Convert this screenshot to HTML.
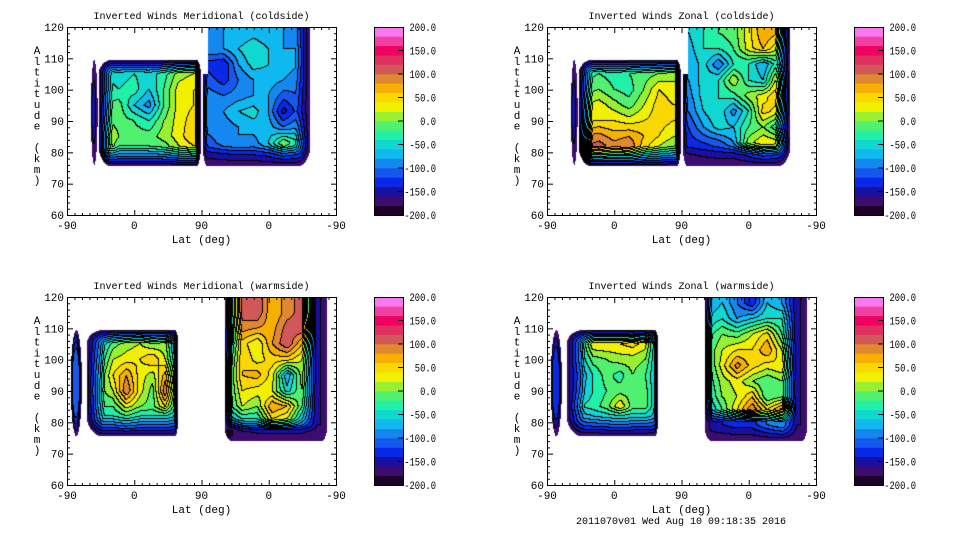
<!DOCTYPE html>
<html><head><meta charset="utf-8">
<style>
html,body{margin:0;padding:0;background:#fff;}
#root{position:relative;width:960px;height:540px;overflow:hidden;background:#fff;font-family:"Liberation Mono",monospace;}
canvas{position:absolute;}
svg{position:absolute;left:0;top:0;}
</style></head>
<body>
<div id="root">
<svg id="ax" width="960" height="540"></svg>
</div>
<script>
// ---- data ----
const colorLevels = [-200,-180,-160,-140,-120,-100,-80,-60,-40,-20,0,20,40,60,80,100,120,140,160,180];
const bandColors = ["#1c0028","#3c0c6e","#1a10a0","#0a28e8","#1458f0","#1488f0","#10b8f0","#10d8d0","#20f0a8","#50f070","#98f030","#f0f000","#f8d800","#f8b000","#e08830","#d05858","#e03060","#f00060","#f040a0","#f878f0"];
const cbarLabels = ["200.0","150.0","100.0","50.0","0.0","-50.0","-100.0","-150.0","-200.0"];
const cbarValues = [200,150,100,50,0,-50,-100,-150,-200];
const altTicks = [60,70,80,90,100,110,120];
const latTickLabels = ["-90","0","90","0","-90"];
const panelTitles = ["Inverted Winds Meridional (coldside)","Inverted Winds Zonal (coldside)","Inverted Winds Meridional (warmside)","Inverted Winds Zonal (warmside)"];

const colsA = [50,70,90,110,130,150,170];
const altsA = [105,100,95,90,85,82];
const colsB = [190,210,230,250,270,290,310];
const altsB = [118,113,108,103,98,93,88,83,79];
const colsAw = [45,62,80,98,115,132,146];
const colsBw = [215,235,255,275,295,315,335];
const altsBw = [115,110,105,100,95,90,85,81,77];
const altsBz = [118,113,108,103,98,93,88,84,80];

const meridColdA = [[-40,-50,-40,-50,-30,10,20],[-30,-40,-30,-60,-20,30,40],[-20,-10,-60,-90,-20,30,40],[0,-10,-20,-40,0,30,50],[40,0,-10,-10,10,30,60],[40,-20,-20,-20,-10,20,40]];
const meridColdB = [[-90,-80,-80,-70,-80,-80,-90],[-80,-80,-60,-40,-60,-80,-80],[-130,-140,-80,-50,-60,-70,-80],[-110,-130,-100,-80,-70,-80,-90],[-90,-100,-90,-80,-80,-110,-100],[-90,-80,-60,-50,-80,-150,-110],[-90,-90,-80,-70,-70,-100,-80],[-110,-90,-80,-90,-60,0,-40],[-130,-120,-110,-110,-100,-60,-80]];
const zonalColdA = [[-30,-20,-30,-20,-10,0,10],[-10,0,-20,-30,0,40,30],[20,30,10,-10,20,50,40],[40,40,40,30,40,50,40],[80,90,70,80,60,40,20],[100,110,90,100,50,20,0]];
const zonalColdB = [[-60,-40,-20,-10,30,80,60],[-70,-40,-40,-20,30,60,20],[-80,-50,-100,-40,-40,-80,-20],[-80,-50,-40,20,-40,-60,40],[-90,-50,-40,-30,10,30,60],[-100,-60,-40,-90,-40,50,30],[-120,-80,-50,-60,-20,0,-40],[-130,-120,-110,-80,10,40,30],[-150,-140,-130,-130,-100,-60,-80]];
const meridWarmA = [[-60,-10,10,20,0,10,-80],[-40,20,30,40,60,20,-60],[-20,40,80,30,10,70,-40],[-10,20,100,30,-10,100,-20],[-20,-20,30,0,-10,40,-40],[-40,-40,-20,-40,-40,-40,-60]];
const meridWarmB = [[-100,110,120,60,90,110,-160],[-100,90,80,70,110,120,-160],[-80,50,20,80,120,60,-160],[-60,60,30,50,50,20,-160],[-40,60,70,30,-80,10,-160],[-40,40,30,20,-50,0,-160],[-40,20,0,80,60,-20,-160],[-80,-40,-40,40,20,-60,-160],[-200,-150,-140,-140,-140,-140,-160]];
const zonalWarmA = [[-60,40,40,40,50,30,-60],[-60,-10,0,10,10,0,-60],[-80,-40,-10,-30,0,-20,-60],[-70,-40,-20,-10,-10,-10,-60],[-40,-30,-10,40,-10,-10,-60],[-70,-60,-50,-40,-50,-50,-70]];
const zonalWarmB = [[-80,-60,-100,-140,-60,-80,-160],[-60,-40,-80,-60,-40,-40,-160],[-30,0,-10,20,50,-20,-160],[-20,20,40,40,80,20,-160],[-30,30,90,50,30,40,-160],[-40,10,30,0,-20,0,-160],[-50,0,20,60,-20,0,-160],[-70,-20,40,100,40,90,-160],[-150,-140,-130,-130,-100,-80,-160]];
const ellipseValues = [-160,-160,-110,-130];

// ---- layout ----
const panels = [
 {x:67,y:27,blocks:[
   {kind:"ell",u0:32,u1:41,a0:76,a1:109.5,v:ellipseValues[0]},
   {u0:43,u1:179,a0:75.5,a1:109.5,us:colsA,as:altsA,vals:meridColdA,rim:[14,5,20,14]},
   {u0:182,u1:325,a0:75.5,a1:120,us:colsB,as:altsB,vals:meridColdB,rim:[0,14,20,5],notch:[182,189,105]}]},
 {x:547,y:27,blocks:[
   {kind:"ell",u0:32,u1:41,a0:76,a1:109.5,v:ellipseValues[1]},
   {u0:43,u1:179,a0:75.5,a1:109.5,us:colsA,as:altsA,vals:zonalColdA,rim:[14,5,20,14]},
   {u0:182,u1:325,a0:75.5,a1:120,us:colsB,as:altsB,vals:zonalColdB,rim:[0,14,20,5],notch:[182,189,105]}]},
 {x:67,y:297,blocks:[
   {kind:"ell",u0:5,u1:20,a0:75.5,a1:109.5,v:ellipseValues[2]},
   {u0:27,u1:149,a0:75.5,a1:109.5,us:colsAw,as:altsA,vals:meridWarmA,rim:[14,4,20,18]},
   {u0:211,u1:348,a0:74,a1:120,us:colsBw,as:altsBw,vals:meridWarmB,rim:[0,6,16,8]}]},
 {x:547,y:297,blocks:[
   {kind:"ell",u0:5,u1:20,a0:75.5,a1:109.5,v:ellipseValues[3]},
   {u0:27,u1:149,a0:75.5,a1:109.5,us:colsAw,as:altsA,vals:zonalWarmA,rim:[14,4,20,18]},
   {u0:211,u1:348,a0:74,a1:120,us:colsBw,as:altsBz,vals:zonalWarmB,rim:[0,6,16,8]}]}
];
const W=269,H=188;
const FLOOR=-178;
const xOf=u=>u/360*W;
const yOf=a=>(120-a)/60*H;
const NS="http://www.w3.org/2000/svg";
const svg=document.getElementById('ax');
const root=document.getElementById('root');

function idx(arr,v,desc){
  const n=arr.length;
  for(let i=0;i<n-1;i++){
    const a=arr[i],b=arr[i+1];
    if(desc? (v<=a&&v>=b):(v>=a&&v<=b)) return [i,(v-a)/(b-a)];
  }
  if(desc){ return v>arr[0]?[0,0]:[n-2,1]; }
  return v<arr[0]?[0,0]:[n-2,1];
}
function interp(b,u,a){
  const [i,t]=idx(b.us,u,false);
  const [j,s]=idx(b.as,a,true);
  const g=b.vals;
  const v00=g[j][i],v01=g[j][i+1],v10=g[j+1][i],v11=g[j+1][i+1];
  return (v00*(1-t)+v01*t)*(1-s)+(v10*(1-t)+v11*t)*s;
}
function fieldVal(b,px,py){
  const x0=xOf(b.u0),x1=xOf(b.u1),y0=yOf(b.a1),y1=yOf(b.a0);
  if(px<x0||px>x1||py<y0||py>y1) return null;
  if(b.kind==="ell"){
    const cx=(x0+x1)/2,cy=(y0+y1)/2,rx=(x1-x0)/2,ry=(y1-y0)/2;
    const r=Math.sqrt(((px-cx)/rx)**2+((py-cy)/ry)**2);
    if(r>1) return null;
    const f=Math.min(1,(1-r)*2.5);
    return FLOOR+(b.v-FLOOR)*f;
  }
  if(b.notch && px<xOf(b.notch[1]) && py<yOf(b.notch[2])) return null;
  const u=px/W*360,a=120-py/H*60;
  let v=interp(b,u,a);
  const d=[py-y0,x1-px,y1-py,px-x0];
  const fs=[];
  for(let k=0;k<4;k++){ fs.push(b.rim[k]>0?Math.max(0,Math.min(1,d[k]/b.rim[k])):1); }
  let f=1;
  for(let k=0;k<4;k++){
    const g1=1-fs[k],g2=1-fs[(k+1)%4];
    const c=1-Math.min(1,Math.sqrt(g1*g1+g2*g2));
    f=Math.min(f,c);
  }
  if(f<0) f=0;
  for(let k=0;k<4;k++){
    const g1=1-fs[k],g2=1-fs[(k+1)%4];
    if(b.rim[k]>0&&b.rim[(k+1)%4]>0&&g1*g1+g2*g2>1.05) return null;
  }
  return FLOOR+(v-FLOOR)*f;
}
function rgb(h){return [parseInt(h.substr(1,2),16),parseInt(h.substr(3,2),16),parseInt(h.substr(5,2),16)];}
const bandRGB=bandColors.map(rgb);

panels.forEach((p,pi)=>{
  const c=document.createElement('canvas');
  c.width=W;c.height=H;c.style.left=p.x+'px';c.style.top=p.y+'px';
  
  
  root.insertBefore(c,svg);
  const ctx=c.getContext('2d');
  const img=ctx.createImageData(W,H);
  const lev=new Int16Array(W*H).fill(-1);
  for(let y=0;y<H;y++)for(let x=0;x<W;x++){
    for(const b of p.blocks){
      const v=fieldVal(b,x+0.5,y+0.5);
      if(v!==null){
        let k=0; for(let i=0;i<colorLevels.length;i++) if(v>=colorLevels[i]) k=i;
        lev[y*W+x]=k; break;
      }
    }
  }
  for(let y=0;y<H;y++)for(let x=0;x<W;x++){
    const i=y*W+x,o=i*4,l=lev[i];
    let r=255,g=255,bl=255;
    if(l>=0){
      [r,g,bl]=bandRGB[l];
      const rr=x<W-1?lev[i+1]:-1, dd=y<H-1?lev[i+W]:-1;
      if((rr>=0&&rr!==l)||(dd>=0&&dd!==l)){r=g=bl=0;}
    }
    img.data[o]=r;img.data[o+1]=g;img.data[o+2]=bl;img.data[o+3]=255;
  }
  ctx.putImageData(img,0,0);
});

function el(tag,attrs,parent){const e=document.createElementNS(NS,tag);for(const k in attrs)e.setAttribute(k,attrs[k]);(parent||svg).appendChild(e);return e;}
function txt(x,y,s,anchor,size,parent){const t=el('text',{x:x,y:y,'text-anchor':anchor,'font-size':size,'font-family':'"Liberation Mono",monospace',fill:'#000'},parent);t.textContent=s;return t;}

panels.forEach((p,pi)=>{
  const g=el('g',{});
  
  
  const X=p.x,Y=p.y;
  const t=txt(X+W/2,Y-8,panelTitles[pi],'middle',10,g);
  
  
  el('rect',{x:X+0.5,y:Y+0.5,width:W,height:H,fill:'none',stroke:'#000','stroke-width':1},g);
  for(let a=60;a<=120;a+=2){
    const yy=Y+0.5+yOf(a);const len=(a%10===0)?6:3;
    el('line',{x1:X,y1:yy,x2:X+len,y2:yy,stroke:'#000'},g);
    el('line',{x1:X+W+1,y1:yy,x2:X+W+1-len,y2:yy,stroke:'#000'},g);
  }
  altTicks.forEach(a=>{const l=txt(X-3,Y+yOf(a)+4,String(a),'end',11,g);
    });
  for(let u=0;u<=360;u+=10){
    const xx=X+0.5+xOf(u);const len=(u%90===0)?6:3;
    el('line',{x1:xx,y1:Y+H+1,x2:xx,y2:Y+H+1-len,stroke:'#000'},g);
    el('line',{x1:xx,y1:Y,x2:xx,y2:Y+len,stroke:'#000'},g);
  }
  latTickLabels.forEach((s,i)=>{const l=txt(X+xOf(i*90),Y+H+14,s,'middle',11,g);
    });
  const xt=txt(X+W/2,Y+H+28,'Lat (deg)','middle',11,g);
  
  const yt=el('text',{x:37,y:0,'font-size':11,'font-family':'"Liberation Mono",monospace','text-anchor':'middle'},g);
  
  "Altitude (km)".split('').forEach((ch,i)=>{const ts=el('tspan',{x:X-30,y:Y+27+i*10.8},yt);ts.textContent=ch===' '?'\u00a0':ch;});
  const cx=X+307,cw=29;
  const cb=el('g',{},g);
  
  const bh=H/bandColors.length;
  bandColors.forEach((col,i)=>{el('rect',{x:cx,y:Y+H-(i+1)*bh,width:cw,height:bh+0.3,fill:col},cb);});
  el('rect',{x:cx+0.5,y:Y+0.5,width:cw,height:H,fill:'none',stroke:'#000'},cb);
  cbarValues.forEach((v,i)=>{
    const yy=Y+(200-v)/400*H;
    if(v>-200&&v<200) el('line',{x1:cx+cw-5,y1:yy,x2:cx+cw,y2:yy,stroke:'#000'},cb);
    const s=cbarLabels[i];
    const w=s.length*5.3;
    const l=txt(cx+cw+33-w,yy+4,s,'start',11,cb);
    l.setAttribute('textLength',w.toFixed(1));
    l.setAttribute('lengthAdjust','spacingAndGlyphs');
    
  });
});
const ft=txt(681,524,'2011070v01 Wed Aug 10 09:18:35 2016','middle',10);


</script>
</body></html>
